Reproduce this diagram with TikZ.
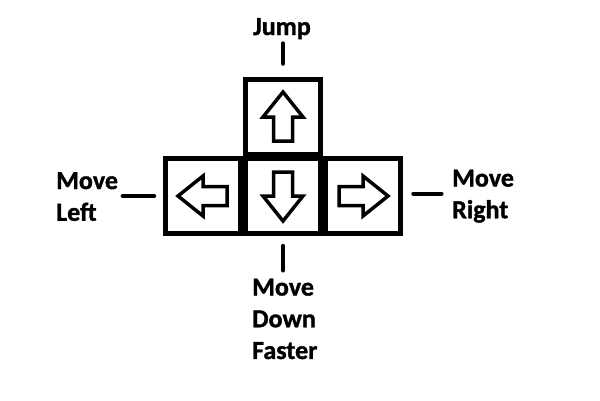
\documentclass[tikz,border=0pt]{standalone}
\usepackage{fontspec}
\newfontfamily\lbl{Carlito}[BoldFeatures={FakeBold=1.2}]
\begin{document}
\begin{tikzpicture}[x=1pt,y=-1pt,
  key/.style={draw=black, line width=4.5pt, rectangle, minimum width=75pt, minimum height=75pt, inner sep=0pt},
  arr/.style={draw=black, line width=3.5pt, line join=miter},
  conn/.style={draw=black, line width=4pt, line cap=round},
  lab/.style={font=\lbl\bfseries\fontsize{26}{31.7}\selectfont, align=left, inner sep=0pt}]
\useasboundingbox[fill=white] (0,0) rectangle (600,400);
% keys
\node[key] (up)    at (283,117) {};
\node[key] (left)  at (203,196) {};
\node[key] (mid)   at (283,196) {};
\node[key] (right) at (363,196) {};
% arrows
\foreach \k/\a in {up/90, left/180, mid/-90, right/0}{
  \begin{scope}[shift={(\k.center)}, rotate=\a]
    \draw[arr] (25,0) -- (0,20) -- (0,9.5) -- (-24,9.5) -- (-24,-9.5) -- (0,-9.5) -- (0,-20) -- cycle;
  \end{scope}
}
% labels
\node[lab, anchor=base] (jump) at (282,35) {Jump};
\node[lab, anchor=north west] (mleft) at (56,172) {Move\\Left};
\node[lab, anchor=north west] (mright) at (452,169.5) {Move\\Right};
\node[lab, anchor=north west] (mdown) at (252,278.5) {Move\\Down\\Faster};
% connectors
\draw[conn, shorten <=4pt, shorten >=13.5pt] (jump.south -| up.north) -- (up.north);
\draw[conn, shorten <=10pt, shorten >=8pt] (mid.south) -- (mid.south |- mdown.north);
\draw[conn, shorten <=4.5pt, shorten >=9pt] (mleft.east |- left.west) -- (left.west);
\draw[conn, shorten <=10.5pt, shorten >=10.5pt] ([yshift=2.5pt]right.east) -- ([yshift=2.5pt]mright.west |- right.east);
\end{tikzpicture}
\end{document}
